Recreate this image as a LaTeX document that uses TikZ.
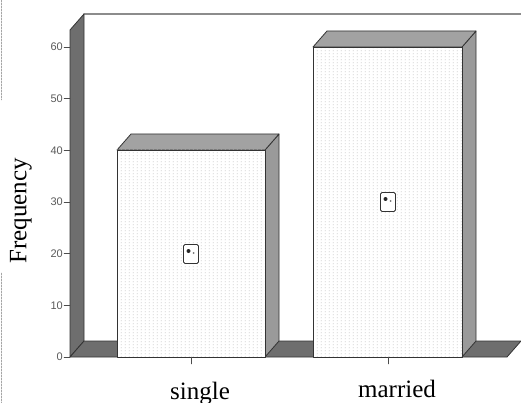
\documentclass[tikz,border=0pt]{standalone}
\usepackage{fontspec}
\setmainfont{Liberation Serif}
\setsansfont{Liberation Sans}
\usetikzlibrary{patterns}
\definecolor{wallgray}{HTML}{6E6E6E}
\definecolor{topgray}{HTML}{A2A2A2}
\definecolor{sidegray}{HTML}{9A9A9A}
\definecolor{dotgray}{HTML}{BDBDBD}
\pgfdeclarepatternformonly{bardots}{\pgfpointorigin}{\pgfqpoint{4pt}{3pt}}{\pgfqpoint{4pt}{3pt}}{%
	\pgfpathrectangle{\pgfqpoint{1pt}{1pt}}{\pgfqpoint{1pt}{1pt}}\pgfusepath{fill}}
\begin{document}
\begin{tikzpicture}[x=1pt, y=-1pt, line join=round, line cap=round]
	\tikzset{slab/.style={draw=black!80, line width=0.8pt},
		barface/.style={slab, preaction={fill=white}, pattern=bardots, pattern color=dotgray},
		ticklab/.style={font=\sffamily\fontsize{11}{11}\selectfont, text=black!65, anchor=east, inner sep=1pt},
		catlab/.style={font=\fontsize{25}{25}\selectfont, anchor=base, inner sep=0pt},
		icon/.style={draw=black!80, fill=white, rounded corners=1.5pt, minimum width=15pt, minimum height=19pt, inner sep=0pt, line width=0.8pt}}
	\useasboundingbox (0,0) rectangle (521,403);
	% frame edge on the left
	\draw[black!35, dash pattern=on 2pt off 1pt] (1,0) -- (1,100);
	\draw[black!35, dash pattern=on 2pt off 1pt] (1,273) -- (1,403);
	% back wall, side wall and floor
	\draw[black!45, line width=1.5pt] (84,14) -- (521,14);
	\filldraw[slab, fill=wallgray] (70,357) -- (70,30) -- (84,14) -- (84,341) -- cycle;
	\filldraw[slab, fill=wallgray] (70,357) -- (507,357) -- (521,341) -- (84,341) -- cycle;
	% bar: single (40)
	\filldraw[slab, fill=sidegray] (265,357) -- (265,150) -- (279,134) -- (279,341) -- cycle;
	\filldraw[slab, fill=topgray] (117,150) -- (131,134) -- (279,134) -- (265,150) -- cycle;
	\draw[barface] (117,150) rectangle (265,357);
	% bar: married (60)
	\filldraw[slab, fill=sidegray] (462,357) -- (462,47) -- (476,31) -- (476,341) -- cycle;
	\filldraw[slab, fill=topgray] (313,47) -- (327,31) -- (476,31) -- (462,47) -- cycle;
	\draw[barface] (313,47) rectangle (462,357);
	% value markers
	\node[icon] (iconS) at (191,254) {};
	\node[icon] (iconM) at (388,202) {};
	\foreach \n in {iconS,iconM} {
		\fill[black!85] ([xshift=-2.5pt,yshift=3pt]\n.center) circle (2pt);
		\fill[black!55] ([xshift=2.5pt,yshift=1pt]\n.center) circle (1pt);
	}
	% axis ticks
	\foreach \v in {0,10,...,60} {
		\draw[black!70] (64,{357-5.167*\v}) -- (70,{357-5.167*\v});
		\node[ticklab] (t\v) at (64,{357-5.167*\v}) {\v};
	}
	\draw[black!70] (191,357) -- (191,364);
	\draw[black!70] (388,357) -- (388,364);
	\node[catlab] (catS) at (200,399) {single};
	\node[catlab] (catM) at (397,397) {married};
	\node[rotate=90, font=\fontsize{25}{25}\selectfont] (freq) at (21,211) {Frequency};
\end{tikzpicture}
\end{document}
